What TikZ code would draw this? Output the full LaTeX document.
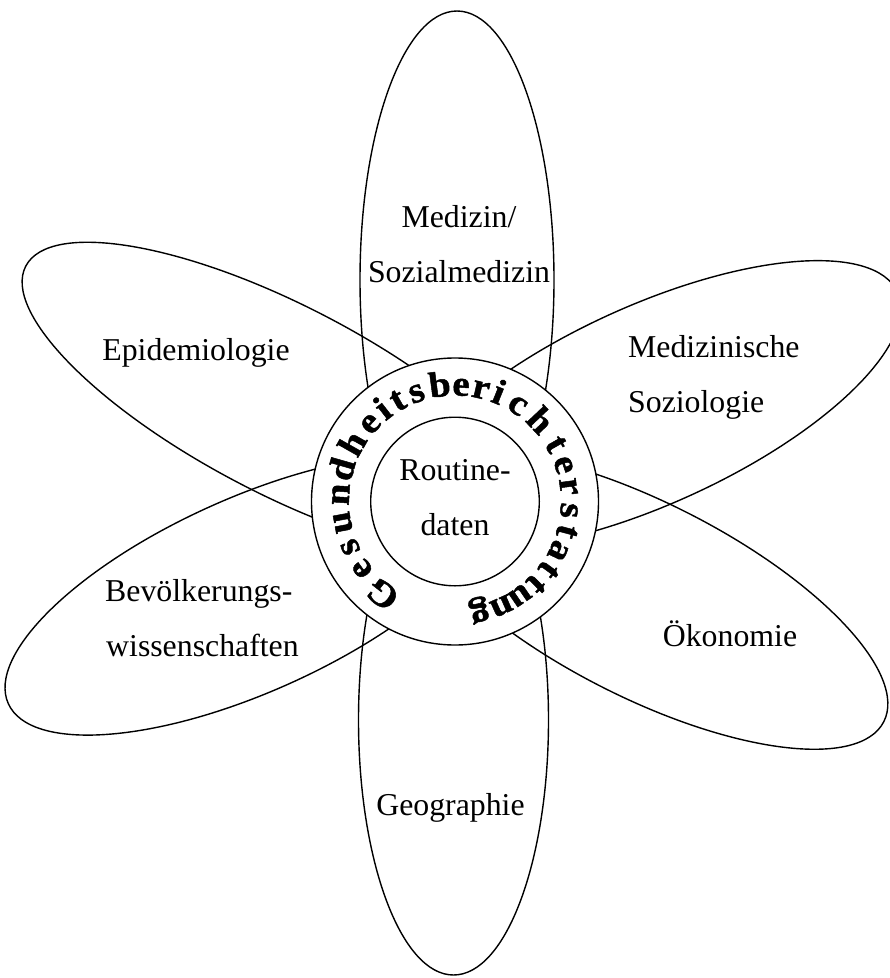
\documentclass[tikz,border=0pt]{standalone}
\usepackage{fontspec}
\setmainfont{Liberation Serif}
\newfontfamily\ringfont[FakeBold=1.3, FakeStretch=1.08]{Liberation Serif Bold}

\tikzset{
  petal/.style={line width=1.4bp},
  lbl/.style={font=\fontsize{31.8bp}{38bp}\selectfont, inner sep=0pt},
  ringchar/.style={font=\ringfont\fontsize{36bp}{36bp}\selectfont, inner sep=0pt, anchor=base},
}

\begin{document}
\begin{tikzpicture}[x=1bp, y=1bp]
  \useasboundingbox (0,0) rectangle (890,-978);
  \clip (0,0) rectangle (890,-978);
  \coordinate (hub) at (455,-501.5);

  % petals
  \draw[petal] (457,-280) ellipse [x radius=97, y radius=269];
  \draw[petal] (453.5,-720) ellipse [x radius=95, y radius=255];
  \draw[petal, shift={(283,-400)}, rotate=-27.5] (0,0) ellipse [x radius=290, y radius=94];
  \draw[petal, shift={(650,-405)}, rotate=24.5] (0,0) ellipse [x radius=272, y radius=99];
  \draw[petal, shift={(250,-595)}, rotate=24.2] (0,0) ellipse [x radius=265, y radius=97];
  \draw[petal, shift={(645,-600)}, rotate=-27] (0,0) ellipse [x radius=268, y radius=97];

  % ring
  \draw[petal, fill=white] (hub) circle [radius=143.5];
  \draw[petal] (hub) circle [radius=84.3];

  \foreach \ch/\ang [count=\i] in {G/232, e/216, s/203.5, u/190.5, n/176.5, d/164,
      h/150.5, e/137.5, i/128, t/119.5, s/109.5, b/97.5, e/87, r/77, i/68, c/57,
      h/43.5, t/29.5, e/18.5, r/7.5, s/-4.5, t/-15, a/-25.5, t/-36, t/-45.5,
      u/-55.5, n/-66, g/-77.5}
    \path (hub) ++(\ang:106) node[ringchar, rotate=\ang-90] (gbe\i) {\ch};

  % labels
  \node[lbl, anchor=base] (routine) at (455,-480) {Routine-};
  \node[lbl, anchor=base] (daten) at (455,-535) {daten};
  \node[lbl, anchor=base] (medizin) at (459,-227) {Medizin/};
  \node[lbl, anchor=base] (sozmed) at (459,-282) {Sozialmedizin};
  \node[lbl, anchor=base] (epi) at (196,-360) {Epidemiologie};
  \node[lbl, anchor=base west] (medsoz) at (628,-357) {Medizinische};
  \node[lbl, anchor=base west] (soziol) at (628,-412) {Soziologie};
  \node[lbl, anchor=base west] (bev) at (105,-601.7) {Bevölkerungs-};
  \node[lbl, anchor=base west] (wiss) at (106,-656.7) {wissenschaften};
  \node[lbl, anchor=base] (oeko) at (730,-646.7) {Ökonomie};
  \node[lbl, anchor=base] (geo) at (450.5,-815) {Geographie};
\end{tikzpicture}
\end{document}
